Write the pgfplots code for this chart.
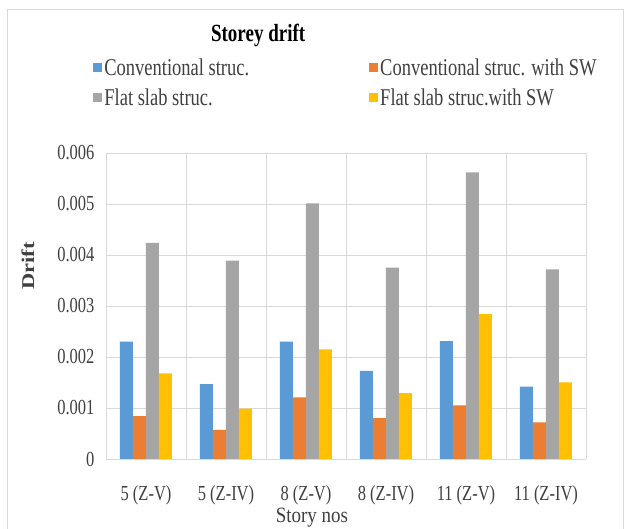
\documentclass[border=0pt]{standalone}
\usepackage{graphicx}
\usepackage{pgfplots}
\pgfplotsset{compat=1.18}
\usepackage{fontspec}
\setmainfont{Liberation Serif}
\definecolor{cblue}{HTML}{5B9BD5}
\definecolor{corange}{HTML}{ED7D31}
\definecolor{cgray}{HTML}{A5A5A5}
\definecolor{cyellow}{HTML}{FFC000}
\definecolor{gridgray}{HTML}{D9D9D9}
\definecolor{labelgray}{HTML}{404040}
\newcommand\vs[1]{\scalebox{1}[1.3]{#1}}
\begin{document}
\begin{tikzpicture}
\useasboundingbox (0,0) rectangle (625pt,529pt);
\fill[white] (0,0) rectangle (625pt,529pt);
\draw[gridgray, line width=1pt] (7pt,-2pt) rectangle (623pt,519pt);
\begin{axis}[
  at={(106pt,70pt)}, anchor=south west, scale only axis,
  width=480pt, height=306pt,
  ybar=0pt, bar width=13pt,
  xmin=-0.5, xmax=5.5, ymin=0, ymax=0.006,
  xtick={0,1,2,3,4,5},
  xticklabels={\vs{5 (Z-V)},\vs{5 (Z-IV)},\vs{8 (Z-V)},\vs{8 (Z-IV)},\vs{11 (Z-V)},\vs{11 (Z-IV)}},
  minor xtick={-0.5,0.5,1.5,2.5,3.5,4.5,5.5},
  ytick={0,0.001,0.002,0.003,0.004,0.005,0.006},
  yticklabels={\vs{0},\vs{0.001},\vs{0.002},\vs{0.003},\vs{0.004},\vs{0.005},\vs{0.006}},
  scaled y ticks=false,
  /pgf/number format/assume math mode=true,
  ymajorgrids, xminorgrids,
  major grid style={draw=gridgray, line width=0.8pt},
  minor grid style={draw=gridgray, line width=0.8pt},
  axis line style={draw=none},
  major tick length=0pt, minor tick length=0pt,
  tick label style={font=\fontsize{16.5}{18}\selectfont, text=labelgray},
  xticklabel style={yshift=-25pt, inner sep=1pt},
  yticklabel style={xshift=-8pt},
  title={\vs{\textbf{Storey drift}}},
  title style={at={(0.317,1.366)}, anchor=center, font=\fontsize{19}{21}\selectfont, text=black},
  xlabel={\scalebox{1}[1.15]{Story nos}},
  xlabel style={at={(0.429,-0.19)}, anchor=center, inner sep=1pt, font=\fontsize{19}{21}\selectfont, text=labelgray},
  ylabel={\scalebox{1.25}[1]{\textbf{Drift}}},
  ylabel style={at={(-0.1625,0.63)}, anchor=center, font=\fontsize{18}{20}\selectfont, text=labelgray},
  legend columns=2,
  legend cell align=left,
  legend style={at={(-0.033,1.322)}, anchor=north west, draw=none, fill=none,
    font=\fontsize{18.5}{20}\selectfont, text=labelgray,
    /tikz/every even column/.append style={column sep=118pt},
    row sep=8pt},
  legend image code/.code={\fill[#1,draw=none] (0pt,-4.5pt) rectangle (9pt,4.5pt);},
]
\addplot[fill=cblue, draw=none] coordinates {(0,0.00230) (1,0.00147) (2,0.00230) (3,0.00173) (4,0.00231) (5,0.00142)};
\addplot[fill=corange, draw=none] coordinates {(0,0.00084) (1,0.00057) (2,0.00121) (3,0.00080) (4,0.00105) (5,0.00072)};
\addplot[fill=cgray, draw=none] coordinates {(0,0.00424) (1,0.00389) (2,0.00501) (3,0.00375) (4,0.00562) (5,0.00372)};
\addplot[fill=cyellow, draw=none] coordinates {(0,0.00168) (1,0.00099) (2,0.00215) (3,0.00129) (4,0.00284) (5,0.00150)};
\legend{\vs{Conventional struc.},\vs{Conventional struc. with SW},\vs{Flat slab struc.},\vs{Flat slab struc.with SW}}
\end{axis}
\end{tikzpicture}
\end{document}
